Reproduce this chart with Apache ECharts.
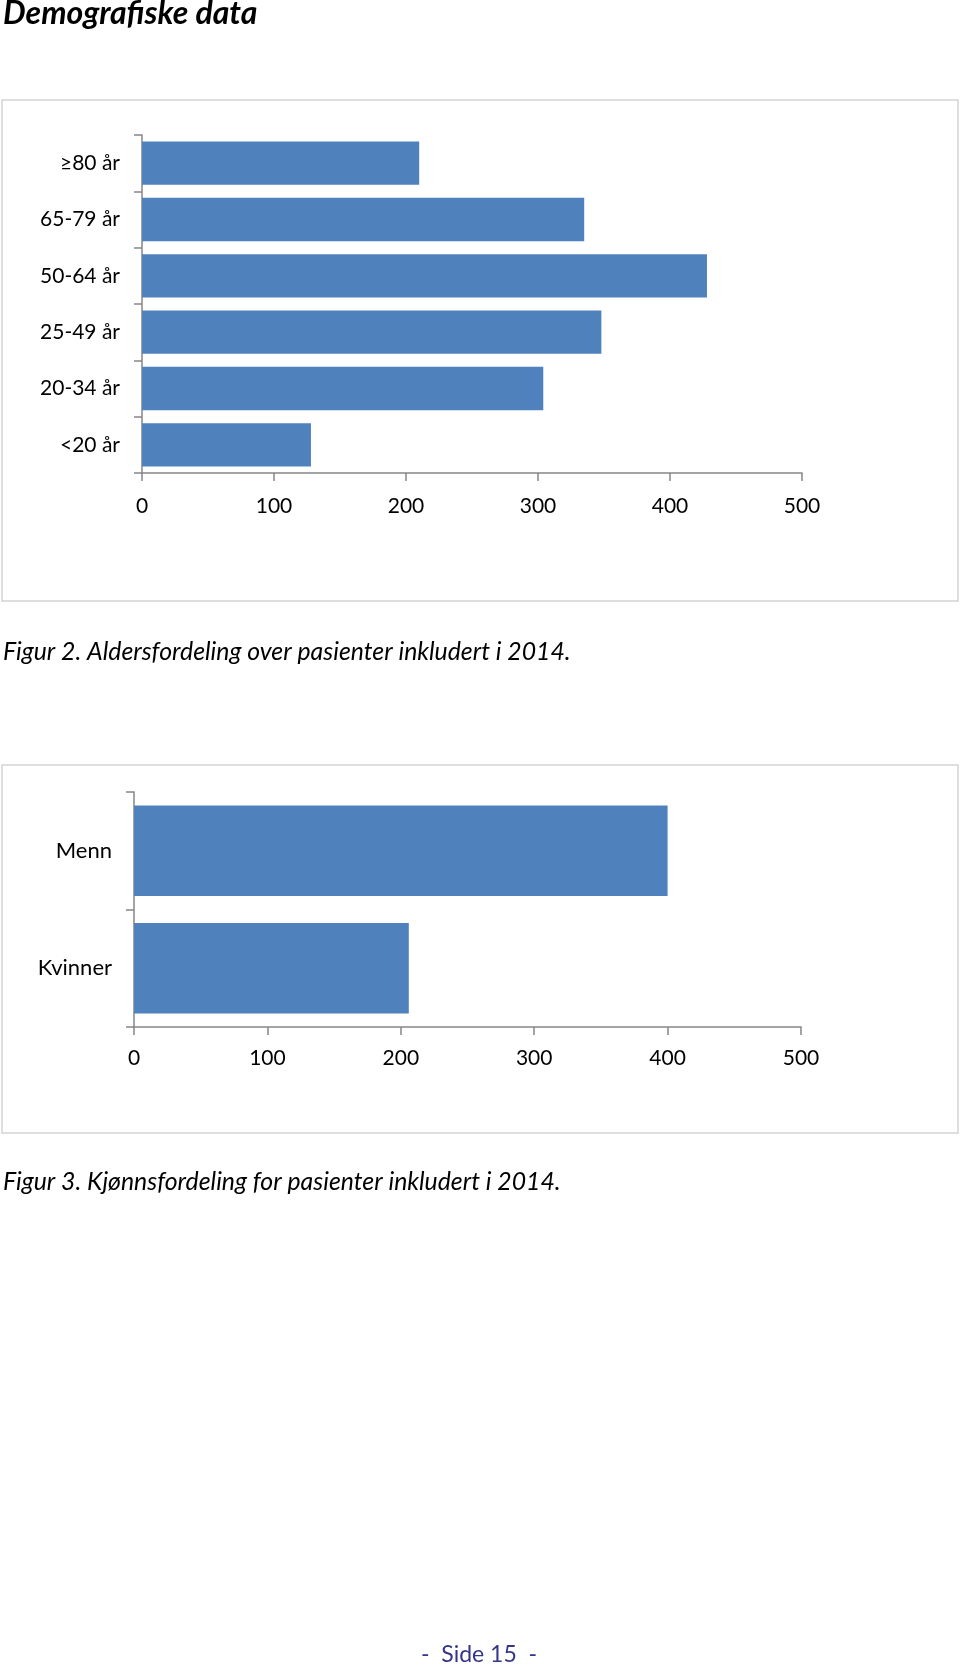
<!DOCTYPE html>
<html>
<head>
<meta charset="utf-8">
<script src="https://cdn.jsdelivr.net/npm/echarts@6/dist/echarts.min.js"></script>
<style>
html,body{margin:0;padding:0;background:#fff;}
#chart{width:960px;height:1666px;}
</style>
</head>
<body>
<div id="chart"></div>
<script>
// Figure 2: age distribution (bottom to top order as drawn by the category axis)
const ageCategories = ['<20 år', '20-34 år', '25-49 år', '50-64 år', '65-79 år', '≥80 år'];
const ageValues = [128, 304, 348, 428, 335, 210];
// Figure 3: sex distribution
const sexCategories = ['Kvinner', 'Menn'];
const sexValues = [206, 400];
// Shared value-axis ticks
const xTicks = [0, 100, 200, 300, 400, 500];

const pageTitle = 'Demografiske data';
const caption2 = 'Figur 2. Aldersfordeling over pasienter inkludert i 2014.';
const caption3 = 'Figur 3. Kjønnsfordeling for pasienter inkludert i 2014.';
const pageNumber = '-  Side 15  -';

const FONT = 'Lato';
const AXIS_COLOR = '#868686';
const BAR_COLOR = '#4f81bd';

function valueAxis(gridIndex, labelMargin) {
  return {
    type: 'value', gridIndex: gridIndex,
    min: xTicks[0], max: xTicks[xTicks.length - 1], interval: xTicks[1] - xTicks[0],
    axisLine: { show: true, lineStyle: { color: AXIS_COLOR, width: 1.5 } },
    axisTick: { show: true, length: 8, lineStyle: { color: AXIS_COLOR, width: 1.5 } },
    splitLine: { show: false },
    axisLabel: { color: '#000', fontFamily: FONT, fontSize: 21, margin: labelMargin }
  };
}
function catAxis(gridIndex, cats, labelMargin, fontSize) {
  return {
    type: 'category', gridIndex: gridIndex, data: cats,
    axisLine: { show: true, lineStyle: { color: AXIS_COLOR, width: 1.5 } },
    axisTick: { show: true, length: 8, alignWithLabel: false, lineStyle: { color: AXIS_COLOR, width: 1.5 } },
    axisLabel: { color: '#000', fontFamily: FONT, fontSize: fontSize, margin: labelMargin }
  };
}

const chart = echarts.init(document.getElementById('chart'), null, { renderer: 'canvas' });
chart.setOption({
  animation: false,
  backgroundColor: '#fff',
  grid: [
    { left: 142, top: 135, width: 660, height: 338 },
    { left: 134, top: 792, width: 667, height: 235 }
  ],
  xAxis: [valueAxis(0, 23), valueAxis(1, 21)],
  yAxis: [catAxis(0, ageCategories, 22, 21), catAxis(1, sexCategories, 22, 22)],
  series: [
    { type: 'bar', xAxisIndex: 0, yAxisIndex: 0, data: ageValues, barCategoryGap: '23%',
      itemStyle: { color: BAR_COLOR } },
    { type: 'bar', xAxisIndex: 1, yAxisIndex: 1, data: sexValues, barCategoryGap: '23%',
      itemStyle: { color: BAR_COLOR } }
  ],
  graphic: [
    { type: 'rect', z: -1, shape: { x: 2, y: 100, width: 956, height: 501 },
      style: { fill: '#fff', stroke: '#d4d4d4', lineWidth: 1.5 } },
    { type: 'rect', z: -1, shape: { x: 2, y: 765, width: 956, height: 368 },
      style: { fill: '#fff', stroke: '#d4d4d4', lineWidth: 1.5 } },
    { type: 'text', x: 3, y: 14,
      style: { text: pageTitle, font: 'italic bold 32px Lato', fill: '#000', verticalAlign: 'middle' } },
    { type: 'text', x: 3, y: 652,
      style: { text: caption2, font: 'italic 24.8px Lato', fill: '#000', verticalAlign: 'middle' } },
    { type: 'text', x: 3, y: 1182,
      style: { text: caption3, font: 'italic 24.8px Lato', fill: '#000', verticalAlign: 'middle' } },
    { type: 'text', x: 479, y: 1655,
      style: { text: pageNumber, font: '23px Lato', fill: '#35358a', align: 'center', verticalAlign: 'middle' } }
  ]
});
</script>
</body>
</html>
